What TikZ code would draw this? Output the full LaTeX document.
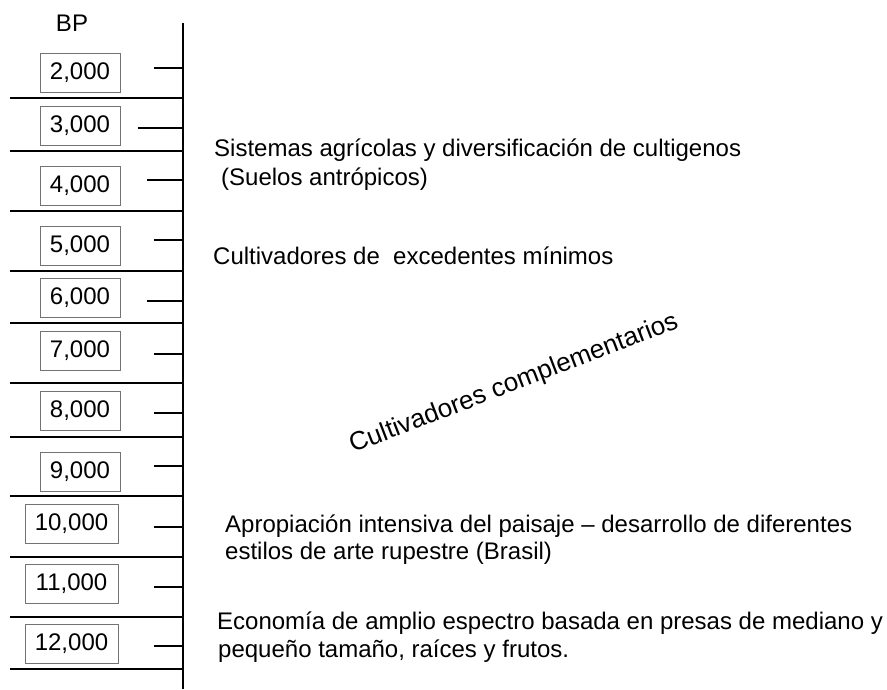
\documentclass[tikz,border=0pt]{standalone}
\usepackage{fontspec}
\setmainfont{Liberation Sans}
\begin{document}
\begin{tikzpicture}[x=1pt,y=-1pt,
  every node/.style={font=\fontsize{24}{27}\selectfont, text=black},
  yearbox/.style={draw=black!55, line width=0.9pt, minimum height=39pt, inner sep=0pt},
  narrowbox/.style={yearbox, minimum width=80pt},
  widebox/.style={yearbox, minimum width=93pt},
  axisline/.style={line width=2pt},
  sepline/.style={line width=1.6pt},
  tickline/.style={line width=1.6pt},
  label/.style={anchor=base west, inner sep=0pt}]
\useasboundingbox (0,0) rectangle (887,689);
% axis
\coordinate (atop) at (183,23);
\coordinate (abot) at (183,689);
\draw[axisline] (atop) -- (abot);
% separators
\foreach \y in {98,151,211,271,323,383,437,496,557,617,669}{
  \coordinate (sl) at (10,\y); \coordinate (sr) at (183,\y);
  \draw[sepline] (sl) -- (sr);
}
% BP
\node[anchor=base, inner sep=0pt] (bp) at (72,31) {BP};
% boxes
\node[narrowbox] (b2) at (80,72.5) {2,000};
\node[narrowbox] (b3) at (80,125.5) {3,000};
\node[narrowbox] (b4) at (80,185.5) {4,000};
\node[narrowbox] (b5) at (80,245.5) {5,000};
\node[narrowbox] (b6) at (80,297.5) {6,000};
\node[narrowbox] (b7) at (80,350.5) {7,000};
\node[narrowbox] (b8) at (80,410.5) {8,000};
\node[narrowbox] (b9) at (80,471.5) {9,000};
\node[widebox] (b10) at (71.5,523.5) {10,000};
\node[widebox] (b11) at (71.5,583.5) {11,000};
\node[widebox] (b12) at (71.5,643.5) {12,000};
% ticks
\foreach \x/\y in {154/68,138/128,147/180,154/240,147/301,154/354,154/413,154/466,154/527,154/587,154/646}{
  \coordinate (tl) at (\x,\y); \coordinate (tr) at (183,\y);
  \draw[tickline] (tl) -- (tr);
}
% texts
\node[label] (t1) at (214,156) {Sistemas agrícolas y diversificación de cultigenos};
\node[label] (t1b) at (221,185) {(Suelos antrópicos)};
\node[label] (t2) at (213,264) {Cultivadores de\ \ excedentes mínimos};
\node[rotate=21, inner sep=0pt, font=\fontsize{26}{28}\selectfont] (t3) at (514,384) {Cultivadores complementarios};
\node[label] (t4) at (225,532) {Apropiación intensiva del paisaje – desarrollo de diferentes};
\node[label] (t4b) at (225,559) {estilos de arte rupestre (Brasil)};
\node[label] (t5) at (217,629) {Economía de amplio espectro basada en presas de mediano y};
\node[label] (t5b) at (218,657) {pequeño tamaño, raíces y frutos.};
\end{tikzpicture}
\end{document}
